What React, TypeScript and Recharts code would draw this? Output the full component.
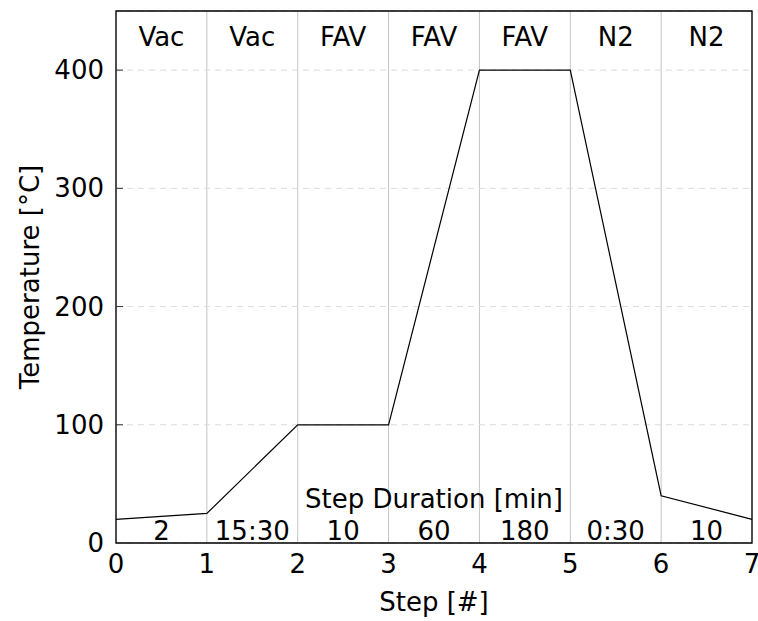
import React from 'react';
import {
  LineChart, Line, XAxis, YAxis, CartesianGrid, ReferenceArea, ReferenceDot,
} from 'recharts';

const STEPS = [0, 1, 2, 3, 4, 5, 6, 7];
const TEMPS = [20, 25, 100, 100, 400, 400, 40, 20];
const ATMOSPHERES = ['Vac', 'Vac', 'FAV', 'FAV', 'FAV', 'N2', 'N2'];
const DURATIONS = ['2', '15:30', '10', '60', '180', '0:30', '10'];
const Y_TICKS = [0, 100, 200, 300, 400];
const X_TICKS = [0, 1, 2, 3, 4, 5, 6, 7];

const data = STEPS.map((s, i) => ({ step: s, temp: TEMPS[i] }));

const FONT = 'DejaVu Sans, Liberation Sans, sans-serif';
const FS = 26;
const TXT = { fontFamily: FONT, fontSize: FS };

// where the in-plot annotations sit, in temperature units
const ATM_Y = 428;
const DUR_Y = 10;
const DUR_TITLE_Y = 37;

const LeftTick = ({ x, y, payload }: any) => (
  <g>
    <text x={x - 12} y={y} dy={9} textAnchor="end" style={TXT} fill="#000">
      {payload.value}
    </text>
    {payload.value !== 0 && <line x1={x} x2={x + 7} y1={y} y2={y} stroke="#333" />}
  </g>
);

const RightTick = ({ x, y, payload }: any) =>
  payload.value !== 0 ? <line x1={x - 7} x2={x} y1={y} y2={y} stroke="#333" /> : <g />;

const BottomTick = ({ x, y, payload }: any) => (
  <text x={x} y={y} dy={30} textAnchor="middle" style={TXT} fill="#000">
    {payload.value}
  </text>
);

const textLabel = (value: string) => ({
  value,
  position: 'center' as const,
  fill: '#000',
  fontSize: FS,
  fontFamily: FONT,
  style: TXT,
});

export default function App() {
  return (
    <div style={{ position: 'absolute', left: 0, top: 0, background: '#fff', fontFamily: FONT }}>
      <LineChart width={758} height={621} data={data} margin={{ top: 11, right: 0, bottom: 0, left: 0 }} style={{ fontFamily: FONT }}>
        <CartesianGrid horizontal={false} stroke="#c4c4c4" />
        <CartesianGrid vertical={false} stroke="#dcdcdc" strokeDasharray="6 5" />
        <XAxis
          dataKey="step"
          type="number"
          domain={[0, 7]}
          ticks={X_TICKS}
          height={78}
          tickLine={false}
          axisLine={false}
          tickSize={0}
          tickMargin={0}
          tick={<BottomTick />}
          label={({ viewBox }: any) => (
            <text x={viewBox.x + viewBox.width / 2} y={viewBox.y + 68} textAnchor="middle" style={TXT} fill="#000">
              Step [#]
            </text>
          )}
        />
        <YAxis
          type="number"
          domain={[0, 450]}
          ticks={Y_TICKS}
          width={116}
          tickLine={false}
          axisLine={false}
          tickSize={0}
          tickMargin={0}
          tick={<LeftTick />}
          label={({ viewBox }: any) => {
            const cx = 30;
            const cy = viewBox.y + viewBox.height / 2;
            return (
              <text x={cx} y={cy} textAnchor="middle" dominantBaseline="central" transform={`rotate(-90 ${cx} ${cy})`} style={TXT} fill="#000">
                Temperature [°C]
              </text>
            );
          }}
        />
        <YAxis
          yAxisId="r"
          orientation="right"
          type="number"
          domain={[0, 450]}
          ticks={Y_TICKS}
          width={6}
          tickLine={false}
          axisLine={false}
          tickSize={0}
          tickMargin={0}
          tick={<RightTick />}
        />
        <ReferenceArea x1={0} x2={7} y1={0} y2={450} fill="none" stroke="#000" strokeWidth={1.3} ifOverflow="extendDomain" />
        {ATMOSPHERES.map((a, i) => (
          <ReferenceDot key={`a${i}`} x={i + 0.5} y={ATM_Y} r={0} stroke="none" label={textLabel(a)} />
        ))}
        {DURATIONS.map((d, i) => (
          <ReferenceDot key={`d${i}`} x={i + 0.5} y={DUR_Y} r={0} stroke="none" label={textLabel(d)} />
        ))}
        <ReferenceDot x={3.5} y={DUR_TITLE_Y} r={0} stroke="none" label={textLabel('Step Duration [min]')} />
        <Line
          dataKey="temp"
          stroke="#000"
          strokeWidth={1.2}
          dot={false}
          isAnimationActive={false}
        />
      </LineChart>
    </div>
  );
}
